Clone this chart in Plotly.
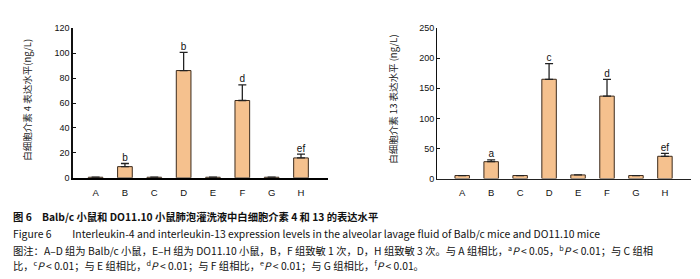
import plotly.graph_objects as go

groups = ["A", "B", "C", "D", "E", "F", "G", "H"]
il4_mean = [0.5, 9, 0.5, 86, 0.5, 62, 0.5, 16]
il4_err = [0, 2.5, 0, 14.5, 0, 12.5, 0, 3]
il4_sig = ["", "b", "", "b", "", "d", "", "ef"]
il13_mean = [5, 28, 5, 165, 6, 137, 5, 37]
il13_err = [0, 3, 0, 26, 0, 28, 0, 5]
il13_sig = ["", "a", "", "c", "", "d", "", "ef"]
il4_ticks = [0, 20, 40, 60, 80, 100, 120]
il13_ticks = [0, 50, 100, 150, 200, 250]

W, H = 700, 279
def px(x): return x / W
def py(y): return 1 - y / H

BAR = "#F5C18E"
EDGE = "#3b2a1c"
FONT = "Liberation Sans, Arial, sans-serif"
CJK = "Noto Sans CJK SC, sans-serif"

fig = go.Figure()

def add_panel(mean, err, sig, xa, ya):
    fig.add_trace(go.Bar(
        x=groups, y=mean, xaxis=xa, yaxis=ya, width=0.5,
        marker=dict(color=BAR, line=dict(color=EDGE, width=1)),
        error_y=dict(type="data", symmetric=False, array=err,
                     arrayminus=[0] * len(err), color="#222", thickness=1.3, width=4),
        showlegend=False, hoverinfo="skip"))
    idx = [i for i, s in enumerate(sig) if s]
    fig.add_trace(go.Scatter(
        x=[groups[i] for i in idx],
        y=[mean[i] + err[i] for i in idx],
        text=[sig[i] for i in idx],
        mode="text", textposition="top center", xaxis=xa, yaxis=ya,
        textfont=dict(family=FONT, size=10, color="#111"),
        showlegend=False, hoverinfo="skip"))

add_panel(il4_mean, il4_err, il4_sig, "x", "y")
add_panel(il13_mean, il13_err, il13_sig, "x2", "y2")

xcommon = dict(type="category", showgrid=False, zeroline=False, ticks="outside",
               ticklen=5, tickcolor="rgba(0,0,0,0)", showline=True,
               tickfont=dict(family=FONT, size=9.5, color="#111"), fixedrange=True)
ycommon = dict(showgrid=False, zeroline=False, ticks="inside", ticklen=3,
               tickcolor="#111", showline=True, linecolor="#111",
               tickfont=dict(family=FONT, size=9, color="#111"))

fig.update_layout(
    width=W, height=H, margin=dict(l=0, r=0, t=0, b=0),
    paper_bgcolor="white", plot_bgcolor="white",
    xaxis=dict(domain=[px(65), px(320)], range=[-0.77, 7.92], anchor="y",
               linecolor="#000", linewidth=2, **xcommon),
    yaxis=dict(domain=[py(171), py(15.7)], range=[0, 120], anchor="x",
               tickvals=il4_ticks, linewidth=1.5, **ycommon),
    xaxis2=dict(domain=[px(429), px(683)], range=[-0.87, 7.9], anchor="y2",
                linecolor="#222", linewidth=1, **xcommon),
    yaxis2=dict(domain=[py(171.7), py(15.7)], range=[0, 250], anchor="x2",
                tickvals=il13_ticks, linewidth=1, **ycommon),
)

ann = [
    dict(x=px(19), y=py(90), text="白细胞介素 4 表达水平(ng/L)", textangle=-90),
    dict(x=px(385), y=py(90), text="白细胞介素 13 表达水平 (ng/L)", textangle=-90),
]
for a in ann:
    fig.add_annotation(xref="paper", yref="paper", showarrow=False,
                       xanchor="center", yanchor="middle",
                       font=dict(family=CJK, size=9.5, color="#222"), **a)

captions = [
    (211, 10.3, "<b>图 6　Balb/c 小鼠和 DO11.10 小鼠肺泡灌洗液中白细胞介素 4 和 13 的表达水平</b>"),
    (229, 10.4, "Figure 6　　Interleukin-4 and interleukin-13 expression levels in the alveolar lavage fluid of Balb/c mice and DO11.10 mice"),
    (246, 10.3, "图注：A–D 组为 Balb/c 小鼠，E–H 组为 DO11.10 小鼠，B，F 组致敏 1 次，D，H 组致敏 3 次。与 A 组相比，"
          "<sup>a</sup><i>P</i> < 0.05，<sup>b</sup><i>P</i> < 0.01；与 C 组相"),
    (262, 10.3, "比，<sup>c</sup><i>P</i> < 0.01；与 E 组相比，<sup>d</sup><i>P</i> < 0.01；与 F 组相比，"
          "<sup>e</sup><i>P</i> < 0.01；与 G 组相比，<sup>f</sup><i>P</i> < 0.01。"),
]
for y, s, t in captions:
    fig.add_annotation(xref="paper", yref="paper", x=px(3), y=py(y), text=t,
                       showarrow=False, xanchor="left", yanchor="middle",
                       font=dict(family=CJK, size=s, color="#111"))

fig.write_html("out.html")
